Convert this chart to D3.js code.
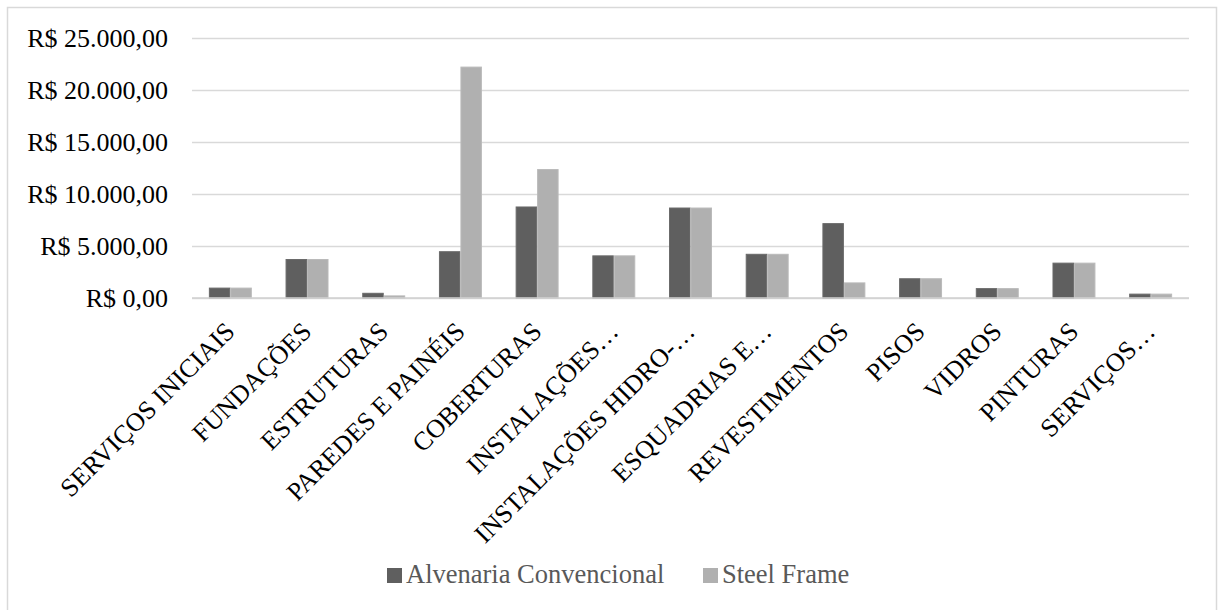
<!DOCTYPE html>
<html><head><meta charset="utf-8">
<script src="https://cdn.jsdelivr.net/npm/d3@7"></script>
<style>body{margin:0;background:#fff}svg{display:block}text{font-family:"Liberation Serif","Times New Roman",serif}</style>
</head><body>
<svg id="c" width="1218" height="610"></svg>
<script>
const categories = ["SERVIÇOS INICIAIS","FUNDAÇÕES","ESTRUTURAS","PAREDES E PAINÉIS","COBERTURAS","INSTALAÇÕES…","INSTALAÇÕES HIDRO-…","ESQUADRIAS E…","REVESTIMENTOS","PISOS","VIDROS","PINTURAS","SERVIÇOS…"];
const alvenaria = [1000,3750,500,4500,8800,4100,8700,4250,7200,1900,950,3400,420];
const steelFrame = [1000,3750,250,22250,12400,4100,8700,4250,1500,1900,950,3400,420];
const seriesNames = ["Alvenaria Convencional","Steel Frame"];
const seriesColors = ["#5f5f5f","#b0b0b0"];
const seriesEdges = ["#6a6a6a","#bababa"];
const yTicks = [0,5000,10000,15000,20000,25000];

const svg = d3.select("#c");
const font = '"Liberation Serif","Times New Roman",serif';
svg.append("rect").attr("x",7.5).attr("y",7.5).attr("width",1209).attr("height",610)
  .attr("fill","#fff").attr("stroke","#d9d9d9").attr("stroke-width",1.5);

const x = d3.scaleBand().domain(categories).range([192,1189]).paddingInner(0.44).paddingOuter(0.22);
const x1 = d3.scaleBand().domain(seriesNames).range([0,x.bandwidth()]);
const y = d3.scaleLinear().domain([0,25000]).range([298,38]);
const fmt = v => "R$ " + d3.format(",.2f")(v).replace(/,/g,"#").replace(".",",").replace(/#/g,".");

const yAxis = d3.axisLeft(y).tickValues(yTicks).tickSize(-(1189-192)).tickFormat(fmt);
const gy = svg.append("g").attr("transform","translate(192,0)").call(yAxis);
gy.attr("font-family",null);
gy.select(".domain").remove();
gy.selectAll(".tick line").attr("stroke","#d9d9d9").attr("stroke-width",1.5);
gy.selectAll(".tick text").attr("x",-24).style("font-family",font).style("font-size","26px").attr("fill","#000");

const data = categories.map((c,i)=>({c, v:[alvenaria[i],steelFrame[i]]}));
const g = svg.append("g");
data.forEach(d=>{
  d.v.forEach((v,j)=>{
    g.append("rect").attr("x",x(d.c)+x1(seriesNames[j])+0.5).attr("y",y(v)+0.5)
      .attr("width",x1.bandwidth()-1).attr("height",Math.max(0,y(0)-y(v)-0.5))
      .attr("fill",seriesColors[j]).attr("stroke",seriesEdges[j]).attr("stroke-width",1);
  });
});
svg.append("line").attr("x1",192).attr("x2",1189).attr("y1",y(0)).attr("y2",y(0)).attr("stroke","#d0d0d0").attr("stroke-width",1.5);

const xAxis = d3.axisBottom(x).tickSize(0);
const gx = svg.append("g").attr("transform",`translate(0,${y(0)})`).call(xAxis);
gx.attr("font-family",null);
gx.select(".domain").remove();
gx.selectAll(".tick text").style("font-family",font).style("font-size","26px").attr("fill","#000")
  .attr("text-anchor","end").attr("dy",0).attr("y",0)
  .attr("transform","translate(6,35) rotate(-45)");

const lg = svg.append("g");
const lx = [387,703];
seriesNames.forEach((s,i)=>{
  lg.append("rect").attr("x",lx[i]).attr("y",568).attr("width",15).attr("height",15).attr("fill",seriesColors[i]);
  lg.append("text").attr("x",lx[i]+19).attr("y",583).text(s).style("font-family",font).style("font-size","26.5px").attr("fill","#595959");
});
</script>
</body></html>
